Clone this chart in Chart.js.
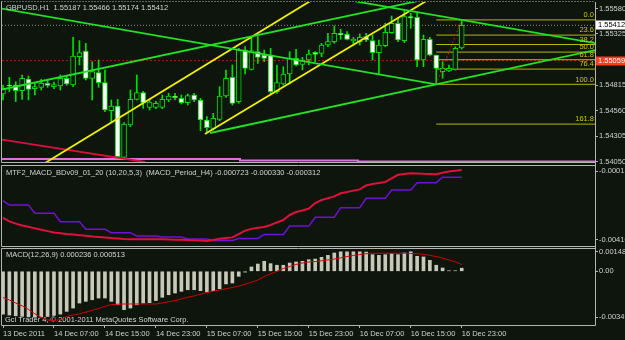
<!DOCTYPE html>
<html>
<head>
<meta charset="utf-8">
<script src="https://cdn.jsdelivr.net/npm/chart.js@4"></script>
<style>
  html, body { margin: 0; padding: 0; background: #0d150d; }
  #wrap { position: relative; width: 625px; height: 340px; overflow: hidden; }
  canvas { position: absolute; left: 0; }
</style>
</head>
<body>
<div id="wrap">
  <canvas id="price" width="625" height="170" style="top:0"></canvas>
  <canvas id="mtf" width="625" height="90" style="top:160px"></canvas>
  <canvas id="macd" width="625" height="96" style="top:244px"></canvas>
</div>
<script>
// GBPUSD H1, 13 Dec 23:00 .. 16 Dec 23:00 (73 bars)
const timeLabels = ['13 Dec 2011', '14 Dec 07:00', '14 Dec 15:00', '14 Dec 23:00', '15 Dec 07:00',
  '15 Dec 15:00', '15 Dec 23:00', '16 Dec 07:00', '16 Dec 15:00', '16 Dec 23:00'];
const timeTickBars = [0, 8, 16, 24, 32, 40, 48, 56, 64, 72];

const openP = [1.54725, 1.54815, 1.54815, 1.54758, 1.54875, 1.54778, 1.54792, 1.54832, 1.54798, 1.54805,
  1.54882, 1.54815, 1.55098, 1.55155, 1.54882, 1.54938, 1.54838, 1.54558, 1.54605, 1.54092,
  1.54415, 1.54672, 1.54738, 1.54592, 1.54592, 1.54592, 1.54665, 1.54705, 1.54682, 1.54638,
  1.54715, 1.54665, 1.54465, 1.54382, 1.54472, 1.54705, 1.54892, 1.54648, 1.55165, 1.54972,
  1.55148, 1.55115, 1.55115, 1.54748, 1.54825, 1.54925, 1.55082, 1.55022, 1.55065, 1.55142,
  1.55132, 1.55215, 1.55248, 1.55332, 1.55325, 1.55258, 1.55248, 1.55298, 1.55258, 1.55138,
  1.55208, 1.55338, 1.55432, 1.55258, 1.55498, 1.55492, 1.55065, 1.55272, 1.55115, 1.54948,
  1.54955, 1.54972, 1.55187];
const highP = [1.54815, 1.54892, 1.54848, 1.54915, 1.54905, 1.54832, 1.54872, 1.54865, 1.54845, 1.54915,
  1.54912, 1.55292, 1.55258, 1.55232, 1.55048, 1.55065, 1.54965, 1.54665, 1.54672, 1.54438,
  1.54765, 1.54915, 1.54752, 1.54672, 1.54652, 1.54715, 1.54732, 1.54732, 1.54715, 1.54725,
  1.54732, 1.54682, 1.54498, 1.54532, 1.54798, 1.54965, 1.55015, 1.55182, 1.55198, 1.55282,
  1.55298, 1.55165, 1.55182, 1.55015, 1.54998, 1.55148, 1.55172, 1.55092, 1.55165, 1.55148,
  1.55232, 1.55332, 1.55405, 1.55372, 1.55348, 1.55292, 1.55325, 1.55332, 1.55315, 1.55265,
  1.55432, 1.55505, 1.55482, 1.55565, 1.55532, 1.55532, 1.55315, 1.55292, 1.55115, 1.55048,
  1.55015, 1.55198, 1.55466];
const lowP = [1.54665, 1.54748, 1.54648, 1.54672, 1.54665, 1.54715, 1.54765, 1.54792, 1.54778, 1.54765,
  1.54812, 1.54798, 1.55015, 1.54865, 1.54665, 1.54792, 1.54548, 1.54448, 1.54092, 1.54082,
  1.54398, 1.54665, 1.54582, 1.54565, 1.54578, 1.54578, 1.54648, 1.54665, 1.54625, 1.54615,
  1.54648, 1.54358, 1.54338, 1.54365, 1.54458, 1.54692, 1.54615, 1.54632, 1.54925, 1.54965,
  1.55032, 1.55048, 1.54715, 1.54732, 1.54815, 1.54825, 1.55005, 1.54965, 1.55015, 1.55048,
  1.55098, 1.55198, 1.55232, 1.55272, 1.55265, 1.55215, 1.55215, 1.55248, 1.55065, 1.54925,
  1.55198, 1.55332, 1.55248, 1.55238, 1.55382, 1.54998, 1.54998, 1.55105, 1.54822, 1.54882,
  1.54948, 1.54965, 1.55174];
const closeP = [1.54782, 1.54805, 1.54758, 1.54882, 1.54772, 1.54798, 1.54832, 1.54812, 1.54818, 1.54882,
  1.54825, 1.55105, 1.55138, 1.54882, 1.54948, 1.54838, 1.54565, 1.54605, 1.54098, 1.54425,
  1.54672, 1.54738, 1.54638, 1.54645, 1.54632, 1.54672, 1.54705, 1.54688, 1.54638, 1.54708,
  1.54665, 1.54465, 1.54388, 1.54482, 1.54705, 1.54882, 1.54632, 1.55165, 1.54982, 1.55158,
  1.55092, 1.55082, 1.54748, 1.54838, 1.54925, 1.55082, 1.55015, 1.55065, 1.55125, 1.55122,
  1.55215, 1.55248, 1.55332, 1.55315, 1.55272, 1.55272, 1.55292, 1.55265, 1.55138, 1.55215,
  1.55342, 1.55432, 1.55265, 1.55498, 1.55488, 1.55065, 1.55272, 1.55115, 1.54982, 1.54982,
  1.54982, 1.55182, 1.55412];

// objects on the price chart: [bar, price] end points
const greenLines = [
  [[-0.5, 1.55582], [68, 1.54822]],
  [[-0.5, 1.54765], [66, 1.55667]],
  [[55, 1.55655], [93, 1.55233]],
  [[32.5, 1.54335], [93, 1.55165]]
];
const yellowLines = [
  [[6.6, 1.54035], [48.5, 1.55665]],
  [[31.7, 1.54325], [66.7, 1.55665]]
];
const redLine = [[-0.5, 1.54272], [22.3, 1.54045]];
const pinkSteps = [[-0.2, 1.54075], [37.2, 1.5406], [55.7, 1.5405], [93, 1.5405]];
const fibHigh = 1.55466, fibLow = 1.54822, fibLowBar = 68, fibHighBar = 72;
const fibLevels = [0, 23.6, 38.2, 50, 61.8, 76.4, 100, 161.8];
const bidPrice = 1.55412;
const levelPrice = 1.55059;
const priceTicks = [1.5558, 1.55325, 1.54815, 1.5456, 1.54305, 1.5405];

// MTF2_MACD window
const mtfRed = [-0.00283, -0.00303, -0.00316, -0.00327, -0.00334, -0.00343, -0.00351, -0.00359, -0.00367, -0.00371,
  -0.00376, -0.00379, -0.00382, -0.00386, -0.00390, -0.00393, -0.00396, -0.00399, -0.00401, -0.00404,
  -0.00406, -0.00406, -0.00406, -0.00406, -0.00406, -0.00406, -0.00407, -0.00408, -0.00409, -0.00410,
  -0.00412, -0.00413, -0.00416, -0.00410, -0.00403, -0.00399, -0.00395, -0.00376, -0.00356, -0.00346,
  -0.00340, -0.00335, -0.00324, -0.00309, -0.00295, -0.00266, -0.00249, -0.00240, -0.00229, -0.00197,
  -0.00180, -0.00170, -0.00159, -0.00141, -0.00134, -0.00126, -0.00119, -0.00096, -0.00088, -0.00082,
  -0.00076, -0.00056, -0.00035, -0.00030, -0.00026, -0.00027, -0.00029, -0.00030, -0.00032, -0.00023,
  -0.00016, -0.00011, -0.00007];
const mtfPurple = [-0.00183, -0.00209, -0.00209, -0.00209, -0.00209, -0.00256, -0.00256, -0.00256, -0.00256, -0.00305,
  -0.00305, -0.00305, -0.00305, -0.00348, -0.00348, -0.00348, -0.00348, -0.00368, -0.00368, -0.00368,
  -0.00368, -0.00387, -0.00387, -0.00387, -0.00387, -0.00393, -0.00393, -0.00393, -0.00393, -0.00404,
  -0.00404, -0.00404, -0.00404, -0.00413, -0.00413, -0.00413, -0.00413, -0.00401, -0.00401, -0.00401,
  -0.00401, -0.00378, -0.00378, -0.00378, -0.00378, -0.00330, -0.00330, -0.00330, -0.00330, -0.00279,
  -0.00279, -0.00279, -0.00279, -0.00224, -0.00224, -0.00224, -0.00224, -0.00170, -0.00170, -0.00170,
  -0.00170, -0.00122, -0.00122, -0.00122, -0.00122, -0.00080, -0.00080, -0.00080, -0.00080, -0.00049,
  -0.00049, -0.00049, -0.00049];
const mtfTicks = [-0.00013, -0.0041];

// MACD(12,26,9) window
const macdHist = [-0.00325, -0.00332, -0.00338, -0.00342, -0.00346, -0.00349, -0.00347, -0.00343, -0.00335, -0.00325,
  -0.00304, -0.00279, -0.00241, -0.00228, -0.00216, -0.00203, -0.00203, -0.00228, -0.00254, -0.00291,
  -0.00279, -0.00254, -0.00241, -0.00238, -0.00222, -0.00197, -0.00178, -0.00165, -0.00152, -0.00140,
  -0.00140, -0.00147, -0.00157, -0.00147, -0.00132, -0.00096, -0.00089, -0.00038, -0.00006, 0.00033,
  0.00055, 0.00076, 0.00058, 0.00046, 0.00046, 0.00063, 0.00071, 0.00076, 0.00088, 0.00093,
  0.00106, 0.00121, 0.00139, 0.00148, 0.00148, 0.00148, 0.00148, 0.00146, 0.00126, 0.00121,
  0.00126, 0.00134, 0.00126, 0.00139, 0.00148, 0.00114, 0.00109, 0.00083, 0.00046, 0.00025,
  0.00004, 0.00004, 0.000236];
const macdSignal = [-0.00199, -0.00218, -0.00241, -0.00262, -0.00290, -0.00323, -0.00349, -0.00370, -0.00373, -0.00367,
  -0.00343, -0.00332, -0.00323, -0.00310, -0.00296, -0.00282, -0.00266, -0.00253, -0.00250, -0.00248,
  -0.00248, -0.00248, -0.00248, -0.00248, -0.00248, -0.00240, -0.00231, -0.00222, -0.00209, -0.00197,
  -0.00187, -0.00175, -0.00161, -0.00151, -0.00142, -0.00133, -0.00123, -0.00112, -0.00098, -0.00083,
  -0.00066, -0.00040, -0.00019, 0.00000, 0.00021, 0.00036, 0.00052, 0.00063, 0.00071, 0.00074,
  0.00080, 0.00086, 0.00093, 0.00102, 0.00112, 0.00120, 0.00127, 0.00134, 0.00137, 0.00137,
  0.00137, 0.00137, 0.00137, 0.00137, 0.00135, 0.00133, 0.00129, 0.00121, 0.00112, 0.00101,
  0.00086, 0.00071, 0.000513];
const macdTicks = [0.00148, 0, -0.00349];

const BG = '#0d150d';
const CANDLE = '#00e000';
const FRAME = '#b4b4b4';
const X_MIN = -0.157, X_MAX = 92.92;

Chart.defaults.font.family = '"Liberation Sans", Arial, sans-serif';
Chart.defaults.font.size = 7.5;
Chart.defaults.color = '#d0d0d0';
Chart.defaults.animation = false;
Chart.defaults.responsive = false;
Chart.defaults.events = [];
Chart.defaults.plugins.legend.display = false;
Chart.defaults.plugins.tooltip.enabled = false;

const bars = openP.map((_, i) => i);
const last = bars.length - 1;

const xScale = (show) => ({
  type: 'linear', min: X_MIN, max: X_MAX, offset: false, display: show,
  grid: { display: show, offset: false, drawOnChartArea: false, tickLength: 3, color: FRAME },
  border: { display: false },
  afterBuildTicks: s => { s.ticks = timeTickBars.map(v => ({ value: v })); },
  afterFit: s => {
    if (!show) return;
    s.height = 15; s.paddingLeft = 0; s.paddingRight = 0;
  },
  ticks: { align: 'start', padding: 1, autoSkip: false, maxRotation: 0,
    callback: v => timeLabels[timeTickBars.indexOf(v)] }
});

const yScale = (min, max, values, fmt) => ({
  position: 'right', min, max,
  grid: { drawOnChartArea: false, tickLength: 3, color: FRAME },
  border: { display: false },
  afterBuildTicks: s => { s.ticks = values.map(v => ({ value: v })); },
  afterFit: s => { s.width = 30; s.paddingTop = 0; s.paddingBottom = 0; },
  ticks: { padding: 1, autoSkip: false, callback: fmt }
});

const seg = (pts, color, width, dash, order, extra) => Object.assign({
  type: 'line', data: pts.map(([x, y]) => ({ x, y })), borderColor: color, borderWidth: width,
  borderDash: dash || [], pointRadius: 0, fill: false, tension: 0, clip: 0, order
}, extra || {});

// panel border, like the terminal draws it
const frame = {
  id: 'frame',
  afterDraw(chart, args, opts) {
    const { ctx, chartArea: a } = chart;
    ctx.save();
    ctx.strokeStyle = FRAME;
    ctx.lineWidth = 1;
    ctx.beginPath();
    ctx.moveTo(a.left - 0.5, a.top - 0.5);
    ctx.lineTo(a.left - 0.5, a.bottom + 0.5);
    ctx.moveTo(a.right + 0.5, a.top - (opts.extTop || 0));
    ctx.lineTo(a.right + 0.5, a.bottom + (opts.extBottom || 0.5));
    ctx.moveTo(a.left - 0.5, a.bottom + 0.5);
    ctx.lineTo(a.right + 0.5, a.bottom + 0.5);
    ctx.stroke();
    ctx.setLineDash(opts.dashTop ? [1, 2] : []);
    ctx.beginPath();
    ctx.moveTo(a.left - 0.5, a.top - 0.5);
    ctx.lineTo(a.right + 0.5, a.top - 0.5);
    ctx.stroke();
    ctx.restore();
  }
};

const captions = {
  id: 'captions',
  beforeDatasetsDraw(chart, args, opts) { drawCaptions(chart, opts.items.filter(t => t.under)); },
  afterDatasetsDraw(chart, args, opts) { drawCaptions(chart, opts.items.filter(t => !t.under)); }
};
function drawCaptions(chart, items) {
  const ctx = chart.ctx;
  ctx.save();
  ctx.font = '7.5px "Liberation Sans", Arial, sans-serif';
  ctx.fillStyle = '#d4d4d4';
  ctx.textBaseline = 'middle';
  ctx.textAlign = 'left';
  items.forEach(t => ctx.fillText(t.text, t.x, t.y));
  ctx.restore();
}

const fibPrice = l => fibHigh - (fibHigh - fibLow) * l / 100;

// fibo level labels and price boxes on the right scale
const priceMarks = {
  id: 'priceMarks',
  afterDraw(chart) {
    const { ctx, chartArea: a } = chart;
    const y = chart.scales.y;
    ctx.save();
    ctx.font = '7.5px "Liberation Sans", Arial, sans-serif';
    ctx.fillStyle = '#c8c800';
    ctx.textAlign = 'right';
    ctx.textBaseline = 'bottom';
    fibLevels.forEach(l => ctx.fillText(l.toFixed(1), a.right - 1, y.getPixelForValue(fibPrice(l)) - 1));
    const box = (p, bg, fg) => {
      const py = Math.round(y.getPixelForValue(p));
      ctx.fillStyle = bg;
      ctx.fillRect(a.right + 1, py - 4.5, 30, 9);
      ctx.fillStyle = fg;
      ctx.textAlign = 'left';
      ctx.textBaseline = 'middle';
      ctx.fillText(p.toFixed(5), a.right + 3, py);
    };
    box(levelPrice, '#ff3c14', '#ffffff');
    box(bidPrice, '#ffffff', '#000000');
    ctx.restore();
  }
};

// price chart
new Chart(document.getElementById('price'), {
  type: 'bar',
  data: {
    datasets: [
      ...greenLines.map(l => seg(l, '#22e022', 1.8, null, 0)),
      ...yellowLines.map(l => seg(l, '#f0f000', 1.8, null, 0)),
      seg(redLine, '#dc1040', 1.8, null, 0),
      seg([[fibLowBar, fibLow], [fibHighBar, fibHigh]], '#e01010', 1, [2, 2], 0),
      {
        type: 'bar', data: bars.map(i => ({ x: i, y: [openP[i], closeP[i]] })),
        backgroundColor: bars.map(i => closeP[i] >= openP[i] ? BG : '#ffffff'),
        borderColor: CANDLE, borderWidth: 1, borderSkipped: false,
        barThickness: 5, grouped: false, order: 1
      },
      {
        type: 'bar', data: bars.map(i => ({ x: i, y: [lowP[i], highP[i]] })),
        backgroundColor: CANDLE, barThickness: 1, grouped: false, order: 2
      },
      ...fibLevels.map(l => seg([[fibLowBar, fibPrice(l)], [X_MAX, fibPrice(l)]], '#b8b800', 1, null, 3)),
      seg([[X_MIN, bidPrice], [X_MAX, bidPrice]], '#8c8c8c', 1, [1, 2], 3),
      seg([[X_MIN, levelPrice], [X_MAX, levelPrice]], '#c41212', 1, [2, 2], 3),
      seg(pinkSteps, '#e070e0', 2, null, 3, { stepped: true })
    ]
  },
  options: {
    layout: { padding: { top: 2, bottom: 8, left: 2, right: 0 } },
    scales: {
      x: xScale(false),
      y: yScale(1.54045, 1.55645, priceTicks, v => v.toFixed(5))
    },
    plugins: {
      frame: { dashTop: true, extBottom: 4 },
      captions: { items: [{ text: `GBPUSD,H1  ${openP[last].toFixed(5)} ${highP[last].toFixed(5)} ${lowP[last].toFixed(5)} ${closeP[last].toFixed(5)}`, x: 6, y: 8 }] }
    }
  },
  plugins: [frame, captions, priceMarks]
});

// MTF2_MACD window
new Chart(document.getElementById('mtf'), {
  type: 'line',
  data: {
    datasets: [
      { data: bars.map(i => ({ x: i, y: mtfRed[i] })), borderColor: '#e0103c', borderWidth: 2, pointRadius: 0, tension: 0 },
      { data: bars.map(i => ({ x: i, y: mtfPurple[i] })), borderColor: '#7010d8', borderWidth: 1.5, pointRadius: 0, tension: 0 }
    ]
  },
  options: {
    layout: { padding: { top: 6, bottom: 4, left: 2, right: 0 } },
    scales: {
      x: xScale(false),
      y: yScale(-0.0044455, 0.0001577, mtfTicks, v => v.toFixed(5))
    },
    plugins: {
      frame: { extTop: 4, extBottom: 4 },
      captions: { items: [{ text: 'MTF2_MACD_BDv09_01_20 (10,20,5,3)  (MACD_Period_H4) -0.000723 -0.000330 -0.000312', x: 6, y: 13 }] }
    }
  },
  plugins: [frame, captions]
});

// MACD window
new Chart(document.getElementById('macd'), {
  type: 'bar',
  data: {
    datasets: [
      seg(bars.map(i => [i, macdSignal[i]]), '#d80000', 1, null, 0),
      {
        type: 'bar', data: bars.map(i => ({ x: i, y: macdHist[i] })),
        backgroundColor: '#c8c8b8', barThickness: 3, grouped: false, order: 1
      }
    ]
  },
  options: {
    layout: { padding: { top: 5, bottom: 0, left: 2, right: 0 } },
    scales: {
      x: xScale(true),
      y: yScale(-0.0040758, 0.0016926, macdTicks, v => v === 0 ? '0.00' : v.toFixed(5))
    },
    plugins: {
      frame: { extTop: 4 },
      captions: { items: [
        { text: `MACD(12,26,9) ${macdHist[last].toFixed(6)} ${macdSignal[last].toFixed(6)}`, x: 6, y: 11 },
        { text: 'Gci Trader 4, © 2001-2011 MetaQuotes Software Corp.', x: 5, y: 76, under: true }
      ] }
    }
  },
  plugins: [frame, captions]
});
</script>
</body>
</html>
